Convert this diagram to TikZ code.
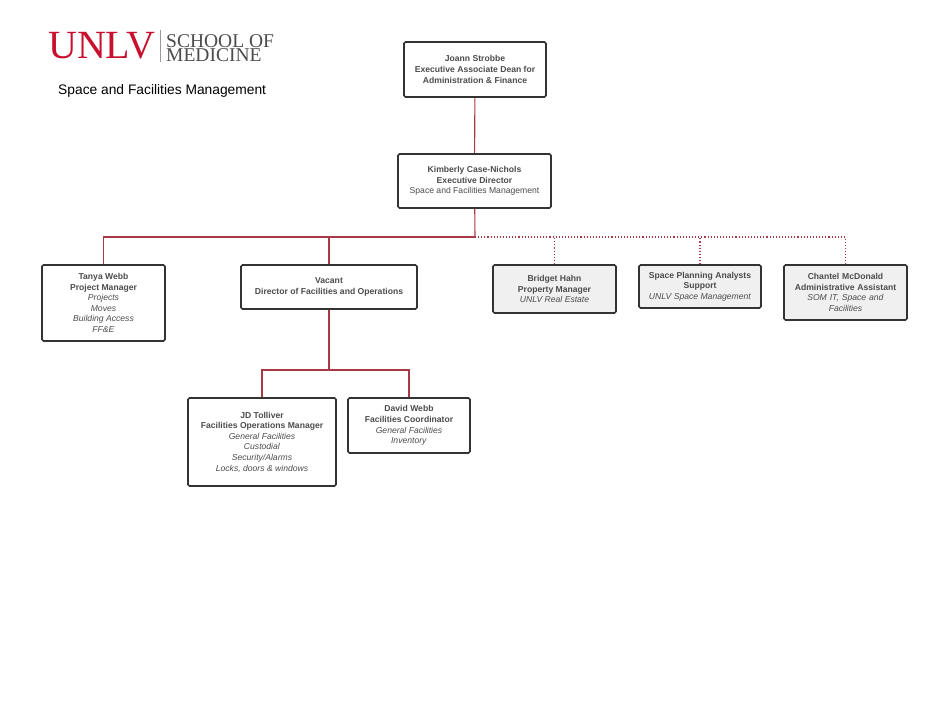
\documentclass[tikz,border=0pt]{standalone}
\usepackage{fontspec}
\setmainfont{Liberation Sans}
\newfontfamily\serifx{Liberation Serif}
\begin{document}
\begin{tikzpicture}[x=1pt,y=-1pt,
  box/.style={draw=black!80,line width=1.6pt,rounded corners=1.5pt,fill=white,align=center,
    text=black!70,font=\fontsize{8.6}{10.6}\selectfont,inner sep=2pt},
  gbox/.style={box,fill=black!6},
  link/.style={draw=linkred,line width=1.1pt},
  dlink/.style={link,dotted},
  logotext/.style={anchor=base west,text=black!70,font=\serifx\fontsize{19.5}{16}\selectfont,inner sep=0}]
\definecolor{linkred}{HTML}{A83A48}
\definecolor{unlvred}{HTML}{C8102E}
\useasboundingbox (0,0) rectangle (940,726);
\node[anchor=west,text=unlvred,font=\serifx\fontsize{40}{40}\selectfont,inner sep=0] (logo) at (48,46) {UNLV};
\draw[black!40,line width=0.6pt] (160,30) -- (160,62);
\node[logotext] (som1) at (166,47) {SCHOOL OF};
\node[logotext] (som2) at (166,61) {MEDICINE};
\node[anchor=west,font=\fontsize{13.8}{16}\selectfont,inner sep=0] (title) at (58,91) {Space and Facilities Management};

\node[box,minimum width=142pt,minimum height=55pt] (js) at (475,69.5) {\textbf{Joann Strobbe}\\\textbf{Executive Associate Dean for}\\\textbf{Administration \& Finance}};
\node[box,minimum width=153pt,minimum height=54pt] (kc) at (474.5,181) {\textbf{Kimberly Case-Nichols}\\\textbf{Executive Director}\\Space and Facilities Management};
\node[box,minimum width=123pt,minimum height=76pt] (tw) at (103.5,303) {\textbf{Tanya Webb}\\\textbf{Project Manager}\\\textit{Projects}\\\textit{Moves}\\\textit{Building Access}\\\textit{FF\&E}};
\node[box,minimum width=176pt,minimum height=44pt] (vc) at (329,287) {\textbf{Vacant}\\\textbf{Director of Facilities and Operations}};
\node[gbox,minimum width=123pt,minimum height=48pt] (bh) at (554.5,289) {\textbf{Bridget Hahn}\\\textbf{Property Manager}\\\textit{UNLV Real Estate}};
\node[gbox,minimum width=122pt,minimum height=43pt] (sp) at (700,286.5) {\textbf{Space Planning Analysts}\\\textbf{Support}\\\textit{UNLV Space Management}};
\node[gbox,minimum width=123pt,minimum height=55pt,text width=118pt] (cm) at (845.5,292.5) {\textbf{Chantel McDonald}\\\textbf{Administrative Assistant}\\\textit{SOM IT, Space and}\\\textit{Facilities}};
\node[box,minimum width=148pt,minimum height=88pt] (jd) at (262,442) {\textbf{JD Tolliver}\\\textbf{Facilities Operations Manager}\\\textit{General Facilities}\\\textit{Custodial}\\\textit{Security/Alarms}\\\textit{Locks, doors \& windows}};
\node[box,minimum width=122pt,minimum height=55pt] (dw) at (409,425.5) {\textbf{David Webb}\\\textbf{Facilities Coordinator}\\\textit{General Facilities}\\\textit{Inventory}};

\coordinate (b1) at (475,237);
\coordinate (b2) at (329,370);
\draw[link] (js) -- (kc);
\draw[link] (kc) -- (b1);
\draw[link] (b1) -| (tw);
\draw[link] (b1) -| (vc);
\draw[dlink] (b1) -| (bh);
\draw[dlink] (b1) -| (sp);
\draw[dlink] (b1) -| (cm);
\draw[link] (vc) -- (b2);
\draw[link] (b2) -| (jd);
\draw[link] (b2) -| (dw);
\end{tikzpicture}
\end{document}
